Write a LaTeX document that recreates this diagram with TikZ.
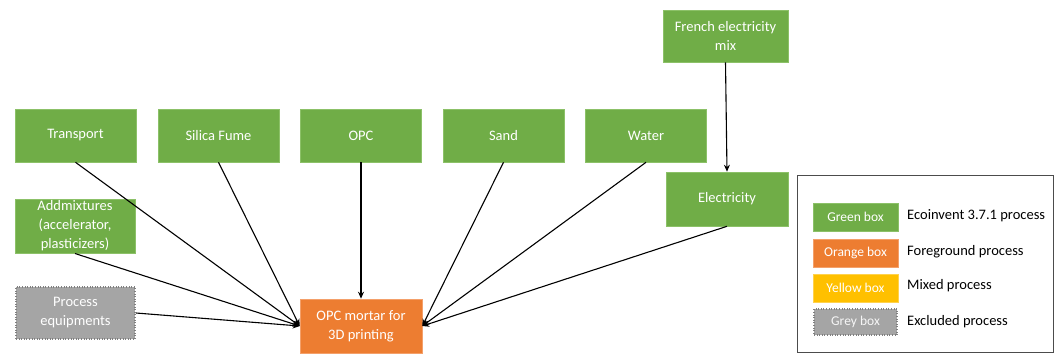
\documentclass[tikz,border=0pt]{standalone}
\usepackage{fontspec}
\setmainfont{Carlito}
\usetikzlibrary{arrows.meta}
\definecolor{gfill}{HTML}{70AD47}
\definecolor{gdraw}{HTML}{8CC168}
\definecolor{ofill}{HTML}{ED7D31}
\definecolor{odraw}{HTML}{F4A06A}
\definecolor{yfill}{HTML}{FFC000}
\definecolor{ydraw}{HTML}{FFD24D}
\definecolor{grfill}{HTML}{A5A5A5}
\definecolor{grdraw}{HTML}{7F7F7F}
\tikzset{
  box/.style={draw=gdraw, line width=0.6pt, fill=gfill, text=white, align=center,
    font=\fontsize{14.5}{19}\selectfont, inner sep=2pt},
  greenbox/.style={box, minimum width=121pt, minimum height=53pt},
  orangebox/.style={box, fill=ofill, draw=odraw, minimum width=122pt, minimum height=54pt},
  greybox/.style={box, fill=grfill, draw=grdraw, dotted, line width=2pt, minimum width=119pt, minimum height=52pt},
  legbox/.style={draw=gdraw, line width=0.6pt, fill=gfill, text=white,
    font=\fontsize{13.5}{15}\selectfont, minimum width=85pt, minimum height=28pt, inner sep=1pt},
  legtext/.style={anchor=west, font=\fontsize{14.5}{16}\selectfont, inner sep=0pt},
  flow/.style={-{Stealth[length=7pt,width=6pt]}, line width=1.1pt, black},
}
\begin{document}
\begin{tikzpicture}[x=1pt,y=-1pt]
\useasboundingbox (0,0) rectangle (1059,354);
% top row
\node[greenbox] (transport) at (75.5,135.5) {Transport};
\node[greenbox] (silica) at (218.5,135.5) {Silica Fume};
\node[greenbox] (opc) at (361,135.5) {OPC};
\node[greenbox] (sand) at (503.5,135.5) {Sand};
\node[greenbox] (water) at (646,135.5) {Water};
\node[greenbox, minimum width=125pt, minimum height=52pt] (french) at (725.5,36) {French electricity\\mix};
\node[greenbox, minimum width=122pt, minimum height=54pt] (elec) at (727,199) {Electricity};
\node[greenbox, minimum width=120pt, minimum height=54pt] (addm) at (75,226) {Addmixtures\\(accelerator,\\plasticizers)};
\node[greybox] (proc) at (75.5,313) {Process\\equipments};
\node[orangebox] (mortar) at (361,326) {OPC mortar for\\3D printing};
% connectors
\draw[flow] (french.south) -- (elec.north);
\draw[flow] (transport.south) -- (mortar.west);
\draw[flow] (silica.south) -- (mortar.west);
\draw[flow] (addm.south) -- (mortar.west);
\draw[flow] (proc.east) -- (mortar.west);
\draw[flow] (opc.south) -- (mortar.north);
\draw[flow] (sand.south) -- (mortar.east);
\draw[flow] (water.south) -- (mortar.east);
\draw[flow] (elec.south) -- (mortar.east);
% legend
\node[draw=black!70, line width=0.8pt, minimum width=256pt, minimum height=177pt, inner sep=0pt] (legend) at (925,263.5) {};
\node[legbox] (lg) at (855.5,217) {Green box};
\node[legbox, fill=ofill, draw=odraw] (lo) at (855.5,253) {Orange box};
\node[legbox, fill=yfill, draw=ydraw] (ly) at (855.5,288) {Yellow box};
\node[legbox, fill=grfill, draw=grdraw, dotted, line width=2pt, minimum width=83pt, minimum height=26pt, text=white!90!grfill] (lgr) at (855.5,322) {Grey box};
\node[legtext] (tg) at (907,216) {Ecoinvent 3.7.1 process};
\node[legtext] (to) at (907,252) {Foreground process};
\node[legtext] (ty) at (907,286) {Mixed process};
\node[legtext] (tgr) at (907,322) {Excluded process};
\end{tikzpicture}
\end{document}
